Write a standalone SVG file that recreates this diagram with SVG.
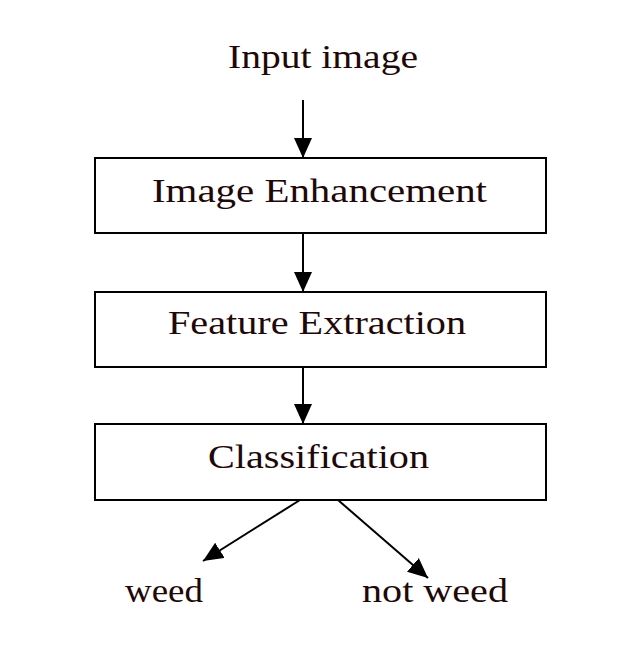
<svg xmlns="http://www.w3.org/2000/svg" width="640" height="668" viewBox="0 0 640 668">
<style>
.box{fill:#fff;stroke:#000;stroke-width:2}
.t{font-family:"Liberation Serif","Times New Roman",serif;font-size:34px;fill:#1e0808;text-anchor:middle}
.c{stroke:#000;stroke-width:2;fill:none;marker-end:url(#ah)}
</style>
<defs>
<marker id="ah" markerUnits="userSpaceOnUse" markerWidth="20" markerHeight="18" refX="20" refY="9" orient="auto">
<path d="M0,0 L20,9 L0,18 Z" fill="#000"/>
</marker>
</defs>
<rect width="640" height="668" fill="#fff"/>
<g id="input"><text class="t" x="323" y="68" textLength="190" lengthAdjust="spacingAndGlyphs">Input image</text></g>
<g id="enhance"><rect class="box" x="95" y="158" width="451" height="75"/><text class="t" x="319.5" y="202" textLength="335" lengthAdjust="spacingAndGlyphs">Image Enhancement</text></g>
<g id="feature"><rect class="box" x="95" y="292" width="451" height="75"/><text class="t" x="317" y="334" textLength="298" lengthAdjust="spacingAndGlyphs">Feature Extraction</text></g>
<g id="classify"><rect class="box" x="95" y="424" width="451" height="76"/><text class="t" x="318.5" y="468" textLength="221" lengthAdjust="spacingAndGlyphs">Classification</text></g>
<g id="weed"><text class="t" x="164" y="602" textLength="78" lengthAdjust="spacingAndGlyphs">weed</text></g>
<g id="notweed"><text class="t" x="435" y="602" textLength="146" lengthAdjust="spacingAndGlyphs">not weed</text></g>
<g id="connectors">
<line class="c" x1="303" y1="100" x2="303" y2="158"/>
<line class="c" x1="303" y1="233" x2="303" y2="292"/>
<line class="c" x1="303" y1="367" x2="303" y2="424"/>
<line class="c" x1="300" y1="500" x2="203" y2="561"/>
<line class="c" x1="338" y1="500" x2="428" y2="578"/>
</g>
</svg>
